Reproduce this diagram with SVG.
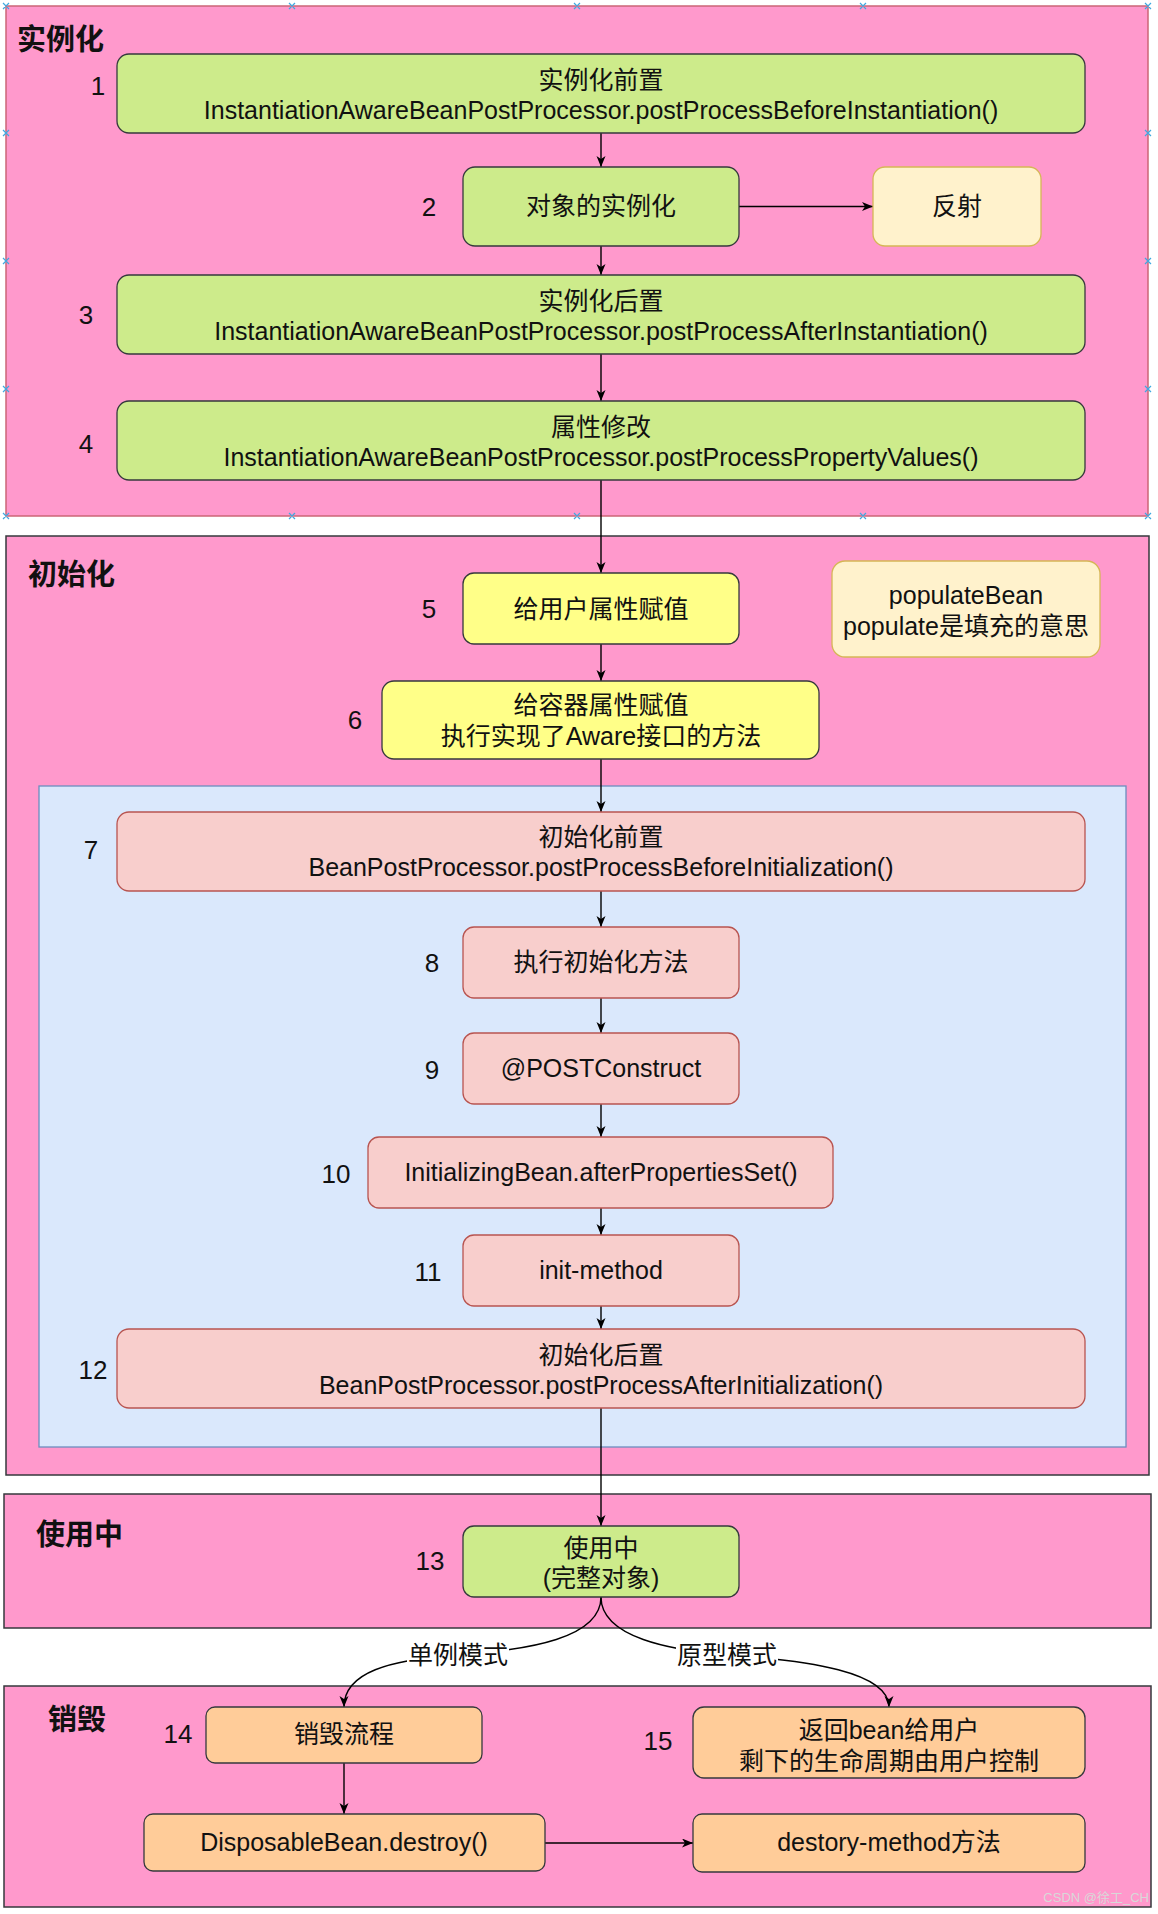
<svg xmlns="http://www.w3.org/2000/svg" width="1158" height="1914" viewBox="0 0 1158 1914">
<style>
  text { font-family: "Liberation Sans", "Noto Sans CJK SC", sans-serif; fill: #111; }
  .t { font-size: 25px; text-anchor: middle; }
  .num { font-size: 26px; text-anchor: middle; }
  .title { font-size: 29px; font-weight: bold; }
  .sec { fill: #FF99CC; stroke: #36393D; stroke-width: 1.5; }
  .sec1 { fill: #FF99CC; stroke: #CC6677; stroke-width: 1.5; }
  .green { fill: #CDEB8B; stroke: #36393D; stroke-width: 1.3; }
  .yellow { fill: #FFFF88; stroke: #36393D; stroke-width: 1.3; }
  .pinkn { fill: #F8CECC; stroke: #B85450; stroke-width: 1.3; }
  .orange { fill: #FFCC99; stroke: #36393D; stroke-width: 1.3; }
  .note { fill: #FFF2CC; stroke: #D6B656; stroke-width: 1.3; }
  .edge { fill: none; stroke: #000; stroke-width: 1.4; marker-end: url(#arr); }
  .hd { stroke: #3FA9E0; stroke-width: 1.2; fill: none; }
</style>
<defs>
  <marker id="arr" markerUnits="userSpaceOnUse" markerWidth="12" markerHeight="10" refX="11" refY="4.5" orient="auto">
    <path d="M0,0 L11,4.5 L0,9 L3,4.5 Z" fill="#000"/>
  </marker>
</defs>

<!-- sections -->
<g id="sec-instantiate">
  <rect class="sec1" x="6" y="6" width="1142" height="510"/>
  <text class="title" x="17" y="50">实例化</text>
</g>
<g id="sec-init">
  <rect class="sec" x="6" y="536" width="1143" height="939"/>
  <text class="title" x="28" y="585">初始化</text>
  <rect x="39" y="786" width="1087" height="661" fill="#DAE8FC" stroke="#6C8EBF" stroke-width="1.3"/>
</g>
<g id="sec-use">
  <rect class="sec" x="4" y="1494" width="1147" height="134"/>
  <text class="title" x="36" y="1545">使用中</text>
</g>
<g id="sec-destroy">
  <rect class="sec" x="4" y="1686" width="1147" height="221"/>
  <text class="title" x="48" y="1730">销毁</text>
</g>

<!-- selection handles on section 1 -->
<g id="handles" class="hd">
  <path d="M3,3 l6,6 M9,3 l-6,6 M289,3 l6,6 M295,3 l-6,6 M574,3 l6,6 M580,3 l-6,6 M860,3 l6,6 M866,3 l-6,6 M1145,3 l6,6 M1151,3 l-6,6"/>
  <path d="M3,513 l6,6 M9,513 l-6,6 M289,513 l6,6 M295,513 l-6,6 M574,513 l6,6 M580,513 l-6,6 M860,513 l6,6 M866,513 l-6,6 M1145,513 l6,6 M1151,513 l-6,6"/>
  <path d="M3,130 l6,6 M9,130 l-6,6 M3,258 l6,6 M9,258 l-6,6 M3,386 l6,6 M9,386 l-6,6"/>
  <path d="M1145,130 l6,6 M1151,130 l-6,6 M1145,258 l6,6 M1151,258 l-6,6 M1145,386 l6,6 M1151,386 l-6,6"/>
</g>

<!-- connectors -->
<g id="connectors">
  <path class="edge" d="M601,133 V167"/>
  <path class="edge" d="M739,206.5 H873"/>
  <path class="edge" d="M601,246 V275"/>
  <path class="edge" d="M601,354 V401"/>
  <path class="edge" d="M601,480 V573"/>
  <path class="edge" d="M601,644 V681"/>
  <path class="edge" d="M601,759 V812"/>
  <path class="edge" d="M601,891 V927"/>
  <path class="edge" d="M601,998 V1033"/>
  <path class="edge" d="M601,1104 V1137"/>
  <path class="edge" d="M601,1208 V1235"/>
  <path class="edge" d="M601,1306 V1329"/>
  <path class="edge" d="M601,1408 V1526"/>
  <path class="edge" d="M601,1597 C601,1638 530,1650 456,1655 C390,1660 344,1672 344,1707"/>
  <path class="edge" d="M601,1597 C601,1638 672,1650 726,1655 C808,1660 889,1672 889,1707"/>
  <rect x="407" y="1640" width="102" height="30" fill="#fff"/>
  <text class="t" x="458" y="1664">单例模式</text>
  <rect x="676" y="1640" width="102" height="30" fill="#fff"/>
  <text class="t" x="727" y="1664">原型模式</text>
  <path class="edge" d="M344,1763 V1814"/>
  <path class="edge" d="M545,1843 H693"/>
</g>

<!-- nodes -->
<g id="n1">
  <rect class="green" x="117" y="54" width="968" height="79" rx="12"/>
  <text class="t" x="601" y="89">实例化前置</text>
  <text class="t" x="601" y="119">InstantiationAwareBeanPostProcessor.postProcessBeforeInstantiation()</text>
  <text class="num" x="98" y="95">1</text>
</g>
<g id="n2">
  <rect class="green" x="463" y="167" width="276" height="79" rx="12"/>
  <text class="t" x="601" y="215">对象的实例化</text>
  <text class="num" x="429" y="216">2</text>
</g>
<g id="n-reflect">
  <rect class="note" x="873" y="167" width="168" height="79" rx="12"/>
  <text class="t" x="957" y="215">反射</text>
</g>
<g id="n3">
  <rect class="green" x="117" y="275" width="968" height="79" rx="12"/>
  <text class="t" x="601" y="310">实例化后置</text>
  <text class="t" x="601" y="340">InstantiationAwareBeanPostProcessor.postProcessAfterInstantiation()</text>
  <text class="num" x="86" y="324">3</text>
</g>
<g id="n4">
  <rect class="green" x="117" y="401" width="968" height="79" rx="12"/>
  <text class="t" x="601" y="436">属性修改</text>
  <text class="t" x="601" y="466">InstantiationAwareBeanPostProcessor.postProcessPropertyValues()</text>
  <text class="num" x="86" y="453">4</text>
</g>
<g id="n5">
  <rect class="yellow" x="463" y="573" width="276" height="71" rx="11"/>
  <text class="t" x="601" y="618">给用户属性赋值</text>
  <text class="num" x="429" y="618">5</text>
</g>
<g id="n-populate">
  <rect class="note" x="832" y="561" width="268" height="96" rx="13"/>
  <text class="t" x="966" y="604">populateBean</text>
  <text class="t" x="966" y="635">populate是填充的意思</text>
</g>
<g id="n6">
  <rect class="yellow" x="382" y="681" width="437" height="78" rx="12"/>
  <text class="t" x="601" y="714">给容器属性赋值</text>
  <text class="t" x="601" y="745">执行实现了Aware接口的方法</text>
  <text class="num" x="355" y="729">6</text>
</g>
<g id="n7">
  <rect class="pinkn" x="117" y="812" width="968" height="79" rx="12"/>
  <text class="t" x="601" y="846">初始化前置</text>
  <text class="t" x="601" y="876">BeanPostProcessor.postProcessBeforeInitialization()</text>
  <text class="num" x="91" y="859">7</text>
</g>
<g id="n8">
  <rect class="pinkn" x="463" y="927" width="276" height="71" rx="11"/>
  <text class="t" x="601" y="971">执行初始化方法</text>
  <text class="num" x="432" y="972">8</text>
</g>
<g id="n9">
  <rect class="pinkn" x="463" y="1033" width="276" height="71" rx="11"/>
  <text class="t" x="601" y="1077">@POSTConstruct</text>
  <text class="num" x="432" y="1079">9</text>
</g>
<g id="n10">
  <rect class="pinkn" x="368" y="1137" width="465" height="71" rx="11"/>
  <text class="t" x="601" y="1181">InitializingBean.afterPropertiesSet()</text>
  <text class="num" x="336" y="1183">10</text>
</g>
<g id="n11">
  <rect class="pinkn" x="463" y="1235" width="276" height="71" rx="11"/>
  <text class="t" x="601" y="1279">init-method</text>
  <text class="num" x="428" y="1281">11</text>
</g>
<g id="n12">
  <rect class="pinkn" x="117" y="1329" width="968" height="79" rx="12"/>
  <text class="t" x="601" y="1364">初始化后置</text>
  <text class="t" x="601" y="1394">BeanPostProcessor.postProcessAfterInitialization()</text>
  <text class="num" x="93" y="1379">12</text>
</g>
<g id="n13">
  <rect class="green" x="463" y="1526" width="276" height="71" rx="11"/>
  <text class="t" x="601" y="1557">使用中</text>
  <text class="t" x="601" y="1587">(完整对象)</text>
  <text class="num" x="430" y="1570">13</text>
</g>
<g id="n14">
  <rect class="orange" x="206" y="1707" width="276" height="56" rx="9"/>
  <text class="t" x="344" y="1743">销毁流程</text>
  <text class="num" x="178" y="1743">14</text>
</g>
<g id="n15">
  <rect class="orange" x="693" y="1707" width="392" height="71" rx="11"/>
  <text class="t" x="889" y="1739">返回bean给用户</text>
  <text class="t" x="889" y="1770">剩下的生命周期由用户控制</text>
  <text class="num" x="658" y="1750">15</text>
</g>
<g id="n-disposable">
  <rect class="orange" x="144" y="1814" width="401" height="57" rx="9"/>
  <text class="t" x="344" y="1851">DisposableBean.destroy()</text>
</g>
<g id="n-destory">
  <rect class="orange" x="693" y="1814" width="392" height="58" rx="9"/>
  <text class="t" x="889" y="1851">destory-method方法</text>
</g>

<text x="1149" y="1902" font-size="13" text-anchor="end" style="fill:#d8d8d8">CSDN @徐工_CH</text>
</svg>
